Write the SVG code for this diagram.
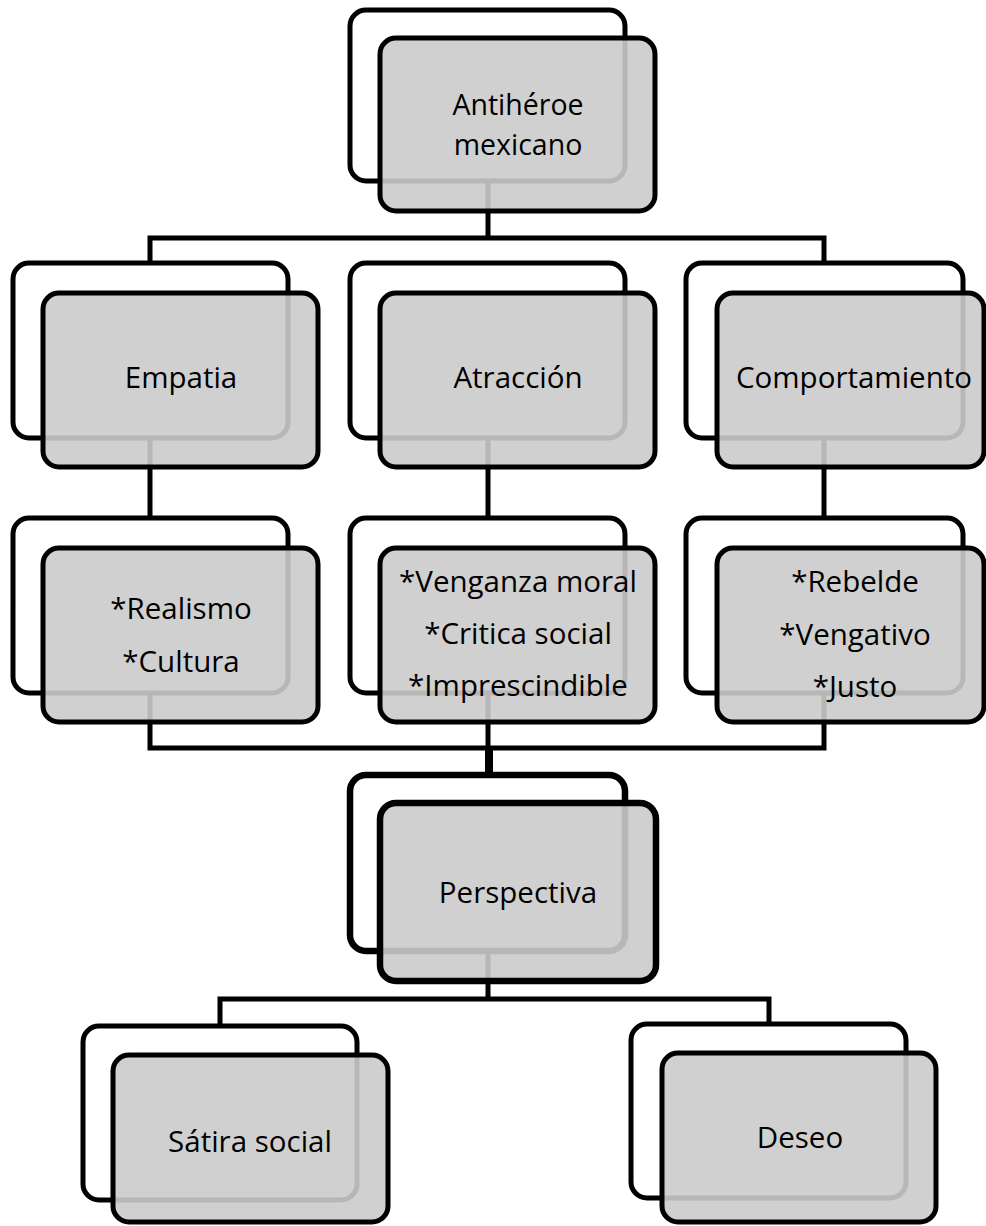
<svg xmlns="http://www.w3.org/2000/svg" width="986" height="1226" viewBox="0 0 986 1226">
<style>
.back{fill:#ffffff;stroke:#000;stroke-width:5}
.front{fill:#cbcbcb;fill-opacity:0.9;stroke:#000;stroke-width:5}
.thick{stroke-width:6.5}
.conn{fill:none;stroke:#000;stroke-width:5;stroke-linejoin:miter;stroke-linecap:butt}
text{font-family:"Open Sans","Liberation Sans",sans-serif;font-size:29.5px;fill:#000;text-anchor:middle}
.sm{font-size:28.5px}
</style>
<rect width="986" height="1226" fill="#fff"/>
<g id="connectors">
<path class="conn" d="M488,181 V238"/>
<path class="conn" d="M150,263 V238 H824 V263"/>
<path class="conn" d="M150,438 V518"/>
<path class="conn" d="M488,438 V518"/>
<path class="conn" d="M824,438 V518"/>
<path class="conn" d="M150,693 V748 H824 V693"/>
<path class="conn" d="M488,693 V748"/>
<path class="conn" d="M489,748 V775" style="stroke-width:8"/>
<path class="conn" d="M488,951 V999"/>
<path class="conn" d="M220,1026 V999 H769 V1024"/>
</g>
<g id="n-antiheroe">
<rect class="back" x="350" y="10" width="275" height="171" rx="16"/>
<rect class="front" x="380" y="38" width="275" height="173" rx="16"/>
<text class="sm" x="518" y="115">Antihéroe</text>
<text class="sm" x="518" y="155">mexicano</text>
</g>
<g id="n-empatia">
<rect class="back" x="13" y="263" width="275" height="175" rx="16"/>
<rect class="front" x="43" y="293" width="275" height="174" rx="16"/>
<text x="181" y="388">Empatia</text>
</g>
<g id="n-atraccion">
<rect class="back" x="350" y="263" width="275" height="175" rx="16"/>
<rect class="front" x="380" y="293" width="275" height="174" rx="16"/>
<text x="518" y="388">Atracción</text>
</g>
<g id="n-comportamiento">
<rect class="back" x="686" y="263" width="277" height="175" rx="16"/>
<rect class="front" x="717" y="293" width="267" height="174" rx="16"/>
<text x="854" y="388">Comportamiento</text>
</g>
<g id="n-realismo">
<rect class="back" x="13" y="518" width="275" height="175" rx="16"/>
<rect class="front" x="43" y="548" width="275" height="174" rx="16"/>
<text x="181" y="619">*Realismo</text>
<text x="181" y="672">*Cultura</text>
</g>
<g id="n-venganza">
<rect class="back" x="350" y="518" width="275" height="175" rx="16"/>
<rect class="front" x="380" y="548" width="275" height="174" rx="16"/>
<text x="518" y="592">*Venganza moral</text>
<text x="518" y="644">*Critica social</text>
<text x="518" y="696">*Imprescindible</text>
</g>
<g id="n-rebelde">
<rect class="back" x="686" y="518" width="277" height="175" rx="16"/>
<rect class="front" x="717" y="548" width="267" height="174" rx="16"/>
<text x="855" y="592">*Rebelde</text>
<text x="855" y="645">*Vengativo</text>
<text x="855" y="697">*Justo</text>
</g>
<g id="n-perspectiva">
<rect class="back thick" x="350" y="775" width="275" height="176" rx="16"/>
<rect class="front thick" x="380" y="803" width="276" height="178" rx="16"/>
<text x="518" y="903">Perspectiva</text>
</g>
<g id="n-satira">
<rect class="back" x="83" y="1026" width="274" height="174" rx="16"/>
<rect class="front" x="113" y="1055" width="275" height="167" rx="16"/>
<text x="250" y="1152">Sátira social</text>
</g>
<g id="n-deseo">
<rect class="back" x="631" y="1024" width="275" height="174" rx="16"/>
<rect class="front" x="662" y="1053" width="274" height="169" rx="16"/>
<text x="800" y="1148">Deseo</text>
</g>
</svg>
